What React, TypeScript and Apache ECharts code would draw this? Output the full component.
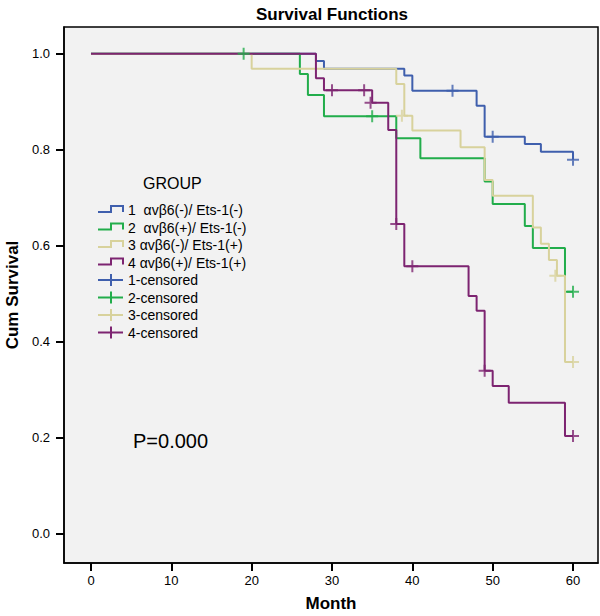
import React, { useEffect, useRef } from "react";
import * as echarts from "echarts";

// ---------- data ----------
const xTicks = [0, 10, 20, 30, 40, 50, 60];
const yTicks = [0, 0.2, 0.4, 0.6, 0.8, 1.0];

const groupNames = [
  "1  αvβ6(-)/ Ets-1(-)",
  "2  αvβ6(+)/ Ets-1(-)",
  "3 αvβ6(-)/ Ets-1(+)",
  "4 αvβ6(+)/ Ets-1(+)",
];
const censorNames = ["1-censored", "2-censored", "3-censored", "4-censored"];

const g1Times = [0, 28, 29, 39, 40, 48, 49, 54, 56, 60];
const g1Surv = [1, 0.985, 0.969, 0.955, 0.923, 0.892, 0.827, 0.812, 0.796, 0.779];
const g2Times = [0, 26, 27, 29, 38, 41, 49, 50, 54, 55, 59, 60];
const g2Surv = [1, 0.958, 0.914, 0.87, 0.824, 0.782, 0.734, 0.687, 0.641, 0.595, 0.504, 0.504];
const g3Times = [0, 20, 38, 39, 40, 46, 49, 50, 55, 56, 57, 58, 59, 60];
const g3Surv = [1, 0.969, 0.937, 0.871, 0.84, 0.805, 0.737, 0.704, 0.638, 0.604, 0.57, 0.537, 0.357, 0.357];
const g4Times = [0, 28, 29, 35, 37, 38, 39, 47, 48, 49, 50, 52, 59, 60];
const g4Surv = [1, 0.949, 0.924, 0.898, 0.841, 0.645, 0.557, 0.495, 0.464, 0.339, 0.307, 0.272, 0.203, 0.203];

const c1Times = [45, 50, 60];
const c1Surv = [0.923, 0.827, 0.779];
const c2Times = [19, 35, 60];
const c2Surv = [1, 0.87, 0.504];
const c3Times = [38.7, 57.8, 60];
const c3Surv = [0.871, 0.537, 0.357];
const c4Times = [30, 34, 34.8, 38, 40, 49, 60];
const c4Surv = [0.924, 0.924, 0.898, 0.645, 0.557, 0.339, 0.203];

const pValueText = "P=0.000";

// ---------- styling ----------
const colors = ["#3f5fad", "#22ad4b", "#d8d29c", "#7d2471"];
const FONT = "'Liberation Sans', Arial, sans-serif";
const PLUS = "path://M5,0H7V5H12V7H7V12H5V7H0V5H5Z";

const zip = (a: number[], b: number[]) => a.map((v, i) => [v, b[i]]);

const curveTimes = [g1Times, g2Times, g3Times, g4Times];
const curveSurv = [g1Surv, g2Surv, g3Surv, g4Surv];
const censTimes = [c1Times, c2Times, c3Times, c4Times];
const censSurv = [c1Surv, c2Surv, c3Surv, c4Surv];

function buildOption() {
  const series: any[] = [];
  for (let i = 0; i < 4; i++) {
    series.push({
      name: groupNames[i],
      type: "line",
      step: "end",
      showSymbol: false,
      data: zip(curveTimes[i], curveSurv[i]),
      lineStyle: { color: colors[i], width: 2 },
      z: 2 + i,
    });
  }
  for (let i = 0; i < 4; i++) {
    series.push({
      name: censorNames[i],
      type: "scatter",
      symbol: PLUS,
      symbolSize: 12,
      data: zip(censTimes[i], censSurv[i]),
      itemStyle: { color: colors[i] },
      z: 10 + i,
    });
  }

  const graphic: any[] = [];
  graphic.push({
    type: "text",
    x: 143,
    y: 183,
    style: { text: "GROUP", fontSize: 16, fontFamily: FONT, fill: "#000", verticalAlign: "middle" },
  });
  const rowY = [210, 227.5, 245, 262.5, 280, 297.5, 315, 332.5];
  for (let i = 0; i < 4; i++) {
    const y = rowY[i];
    graphic.push({
      type: "polyline",
      shape: { points: [[98, y + 2], [111, y + 2], [111, y - 4], [123, y - 4], [123, y + 2]] },
      style: { stroke: colors[i], lineWidth: 2, fill: null },
    });
    graphic.push({
      type: "text",
      x: 128,
      y,
      style: { text: groupNames[i], fontSize: 14, fontFamily: FONT, fill: "#000", verticalAlign: "middle" },
    });
  }
  for (let i = 0; i < 4; i++) {
    const y = rowY[4 + i];
    graphic.push({
      type: "line",
      shape: { x1: 98, y1: y, x2: 123, y2: y },
      style: { stroke: colors[i], lineWidth: 2 },
    });
    graphic.push({
      type: "line",
      shape: { x1: 111, y1: y - 6, x2: 111, y2: y + 6 },
      style: { stroke: colors[i], lineWidth: 2 },
    });
    graphic.push({
      type: "text",
      x: 128,
      y,
      style: { text: censorNames[i], fontSize: 14, fontFamily: FONT, fill: "#000", verticalAlign: "middle" },
    });
  }
  graphic.push({
    type: "text",
    x: 133,
    y: 441,
    style: { text: pValueText, fontSize: 20, fontFamily: FONT, fill: "#000", verticalAlign: "middle" },
  });

  return {
    animation: false,
    backgroundColor: "#ffffff",
    textStyle: { fontFamily: FONT },
    title: {
      text: "Survival Functions",
      left: 327,
      top: 1,
      textAlign: "center",
      textStyle: { fontSize: 17, fontWeight: "bold", color: "#000", fontFamily: FONT },
    },
    grid: {
      left: 64,
      top: 27,
      right: 2,
      bottom: 53,
      show: true,
      backgroundColor: "#f2f2f2",
      borderColor: "#000",
      borderWidth: 1.5,
      containLabel: false,
      outerBoundsMode: "none",
    },
    xAxis: {
      type: "value",
      min: -3.36,
      max: 63.11,
      name: "Month",
      nameLocation: "middle",
      nameGap: 32,
      nameTextStyle: { fontSize: 17, fontWeight: "bold", color: "#000", fontFamily: FONT },
      axisLine: { show: true, onZero: false, lineStyle: { color: "#000", width: 1.5 } },
      axisTick: { show: true, length: 8, customValues: xTicks, lineStyle: { color: "#000", width: 2 } },
      axisLabel: { customValues: xTicks, color: "#000", fontSize: 13, margin: 11, fontFamily: FONT },
      splitLine: { show: false },
    },
    yAxis: {
      type: "value",
      min: -0.062,
      max: 1.056,
      name: "Cum Survival",
      nameLocation: "middle",
      nameGap: 40,
      nameTextStyle: { fontSize: 17, fontWeight: "bold", color: "#000", fontFamily: FONT },
      axisLine: { show: true, onZero: false, lineStyle: { color: "#000", width: 1.5 } },
      axisTick: { show: true, length: 8, customValues: yTicks, lineStyle: { color: "#000", width: 2 } },
      axisLabel: {
        customValues: yTicks,
        color: "#000",
        fontSize: 13,
        margin: 14,
        fontFamily: FONT,
        formatter: (v: number) => v.toFixed(1),
      },
      splitLine: { show: false },
    },
    graphic,
    series,
  };
}

export default function App() {
  const ref = useRef<HTMLDivElement>(null);
  useEffect(() => {
    if (!ref.current) return;
    const chart = echarts.init(ref.current, null, { renderer: "svg" });
    chart.setOption(buildOption() as any);
    return () => chart.dispose();
  }, []);
  return (
    <div
      ref={ref}
      style={{ position: "fixed", left: 0, top: 0, width: 600, height: 616, background: "#fff" }}
    />
  );
}
